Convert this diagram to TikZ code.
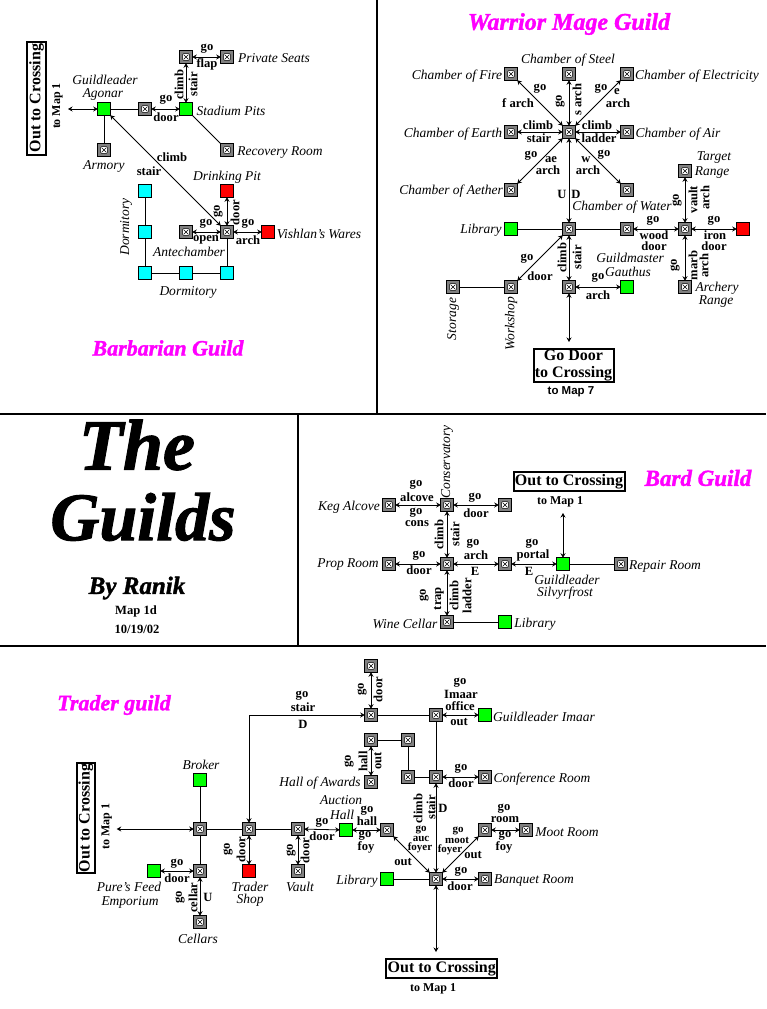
\documentclass[tikz,border=0pt]{standalone}
\usepackage{fontspec}
\setmainfont{Liberation Serif}
\setsansfont{Liberation Sans}
\newfontfamily\gothf[BoldItalicFeatures={FakeBold=1.5}]{Liberation Serif}
\usetikzlibrary{arrows.meta}
\definecolor{rg}{HTML}{808080}
\definecolor{gr}{HTML}{00FF00}
\definecolor{cy}{HTML}{00FFFF}
\definecolor{mg}{HTML}{FF00FF}
\newcounter{lc}
\newcommand\lbl[3][]{\stepcounter{lc}\node[lb,#1] (t\arabic{lc}) at (#2) {#3};}
\newcommand\itl[3][]{\stepcounter{lc}\node[itx,#1] (t\arabic{lc}) at (#2) {#3};}
\newcommand\rb[2]{\stepcounter{lc}\node[lb,rotate=90] (t\arabic{lc}) at (#1) {#2};}
\newcommand\ttl[4]{\stepcounter{lc}\node[gothic,text=#3,font=\fontsize{#4}{#4}\selectfont\gothf\bfseries\itshape] (t\arabic{lc}) at (#1) {#2};}
\tikzset{
 x=1pt,y=-1pt,
 box/.style={draw=black,line width=1pt,minimum size=12.5pt,inner sep=0pt,outer sep=0pt},
 room/.style={box,fill=rg,path picture={
   \draw[line width=.5pt,fill=white,rounded corners=1pt] (path picture bounding box.center) ++(-3.4,-3.4) rectangle ++(6.8,6.8);
   \draw[line width=.4pt] (path picture bounding box.center) ++(-2.2,-2.2) -- ++(4.4,4.4) ++(-4.4,0) -- ++(4.4,-4.4);
 }},
 grn/.style={box,fill=gr},
 rd/.style={box,fill=red},
 cyn/.style={box,fill=cy},
 lb/.style={font=\fontsize{12.6}{13}\selectfont\bfseries,inner sep=0pt,outer sep=0pt,yshift=-.6pt},
 tight/.style={font=\fontsize{11}{11}\selectfont\bfseries},
 itx/.style={font=\fontsize{13.5}{14}\selectfont\itshape,inner sep=0pt,outer sep=0pt,yshift=-1pt},
 gothic/.style={inner sep=0pt},
 exitbox/.style={draw=black,line width=2pt,font=\fontsize{16}{17}\selectfont\bfseries,inner sep=0pt,outer sep=0pt,align=center},
 tomap/.style={font=\fontsize{12}{12}\selectfont\bfseries,inner sep=0pt,outer sep=0pt},
 plain/.style={draw=black,line width=1pt},
 dbl/.style={draw=black,line width=.8pt,{Stealth[length=4.5pt,width=5pt]}-{Stealth[length=4.5pt,width=5pt]}},
 sep/.style={draw=black,line width=2pt},
}
\begin{document}
\begin{tikzpicture}
\useasboundingbox (0,0) rectangle (766,1009);
% frame lines
\coordinate (s1) at (377,0); \coordinate (s2) at (377,414);
\coordinate (s3) at (0,414); \coordinate (s4) at (766,414);
\coordinate (s5) at (298,414); \coordinate (s6) at (298,646);
\coordinate (s7) at (0,646); \coordinate (s8) at (766,646);
\draw[sep] (s1)--(s2); \draw[sep] (s3)--(s4); \draw[sep] (s5)--(s6); \draw[sep] (s7)--(s8);

% ---------- Barbarian
\node[grn] (bLeader) at (104,109) {};
\node[room] (bArm) at (104,150) {};
\node[room] (bDoor) at (145,109) {};
\node[grn] (bPits) at (186,109) {};
\node[room] (bTop) at (186,57) {};
\node[room] (bSeats) at (227,57) {};
\node[room] (bRec) at (227,150) {};
\node[rd] (bDrink) at (227,191) {};
\node[room] (bAnte) at (227,232) {};
\node[room] (bOpen) at (186,232) {};
\node[rd] (bWares) at (268,232) {};
\node[cyn] (bC1) at (145,191) {};
\node[cyn] (bC2) at (145,232) {};
\node[cyn] (bC3) at (145,273) {};
\node[cyn] (bC4) at (186,273) {};
\node[cyn] (bC5) at (227,273) {};
\coordinate (bOut) at (68,109);
\draw[dbl] (bOut)--(bLeader);
\draw[plain] (bLeader)--(bDoor); \draw[plain] (bLeader)--(bArm);
\draw[dbl] (bDoor)--(bPits); \draw[dbl] (bPits)--(bTop); \draw[dbl] (bTop)--(bSeats);
\draw[plain] (bPits)--(bRec);
\draw[dbl] (bLeader)--(bAnte);
\draw[dbl] (bDrink)--(bAnte); \draw[dbl] (bOpen)--(bAnte); \draw[dbl] (bAnte)--(bWares);
\draw[plain] (bAnte)--(bC5);
\draw[plain] (bC1)--(bC2); \draw[plain] (bC2)--(bC3); \draw[plain] (bC3)--(bC4); \draw[plain] (bC4)--(bC5);
\node[exitbox,rotate=90,minimum width=113pt,minimum height=19.5pt] (bExit) at (36.5,98) {Out to Crossing};
\stepcounter{lc}\node[tomap,rotate=90] (t\arabic{lc}) at (57.5,106) {to Map 1};
\itl{105,79}{Guildleader} \itl{103,93}{Agonar}
\lbl{166,99}{go} \lbl{166,117}{door}
\rb{179,84}{climb} \rb{193,84}{stair}
\lbl{207,48}{go} \lbl{207,64}{flap}
\itl{274,57}{Private Seats} \itl{231,110}{Stadium Pits} \itl{280,152}{Recovery Room}
\itl{104,165}{Armory} \lbl{172,157}{climb} \lbl{149,171}{stair}
\itl{227,176}{Drinking Pit}
\itl[rotate=90]{126,226}{Dormitory}
\rb{218,211}{go} \rb{235,212}{door}
\lbl{206,223}{go} \lbl{206,239}{open} \lbl{248,223}{go} \lbl{248,240}{arch}
\itl{319,233}{Vishlan's Wares} \itl{189,251}{Antechamber} \itl{188,291}{Dormitory}
\ttl{168,348}{Barbarian Guild}{mg}{22}

% ---------- Warrior Mage
\node[room] (wFire) at (511,74) {};
\node[room] (wSteel) at (569,74) {};
\node[room] (wElec) at (627,74) {};
\node[room] (wEarth) at (511,132) {};
\node[room] (wMid) at (569,132) {};
\node[room] (wAir) at (627,132) {};
\node[room] (wAeth) at (511,190) {};
\node[room] (wWater) at (627,190) {};
\node[grn] (wLib) at (511,229) {};
\node[room] (wHub) at (569,229) {};
\node[room] (wWood) at (627,229) {};
\node[room] (wIron) at (685,229) {};
\node[rd] (wRed) at (743,229) {};
\node[room] (wTarget) at (685,171) {};
\node[room] (wArch) at (685,287) {};
\node[room] (wBot) at (569,287) {};
\node[grn] (wMaster) at (627,287) {};
\node[room] (wShop) at (511,287) {};
\node[room] (wStore) at (453,287) {};
\coordinate (wOut) at (569,342);
\foreach \n in {wFire,wSteel,wElec,wEarth,wAir,wAeth,wWater,wHub}{\draw[dbl] (wMid)--(\n);}
\draw[plain] (wLib)--(wHub); \draw[plain] (wHub)--(wWood);
\draw[dbl] (wWood)--(wIron); \draw[dbl] (wIron)--(wRed); \draw[dbl] (wIron)--(wTarget); \draw[dbl] (wIron)--(wArch);
\draw[dbl] (wHub)--(wBot); \draw[dbl] (wHub)--(wShop); \draw[plain] (wShop)--(wStore);
\draw[dbl] (wBot)--(wMaster); \draw[dbl] (wBot)--(wOut);
\ttl{569,24}{Warrior Mage Guild}{mg}{24}
\itl{568,59}{Chamber of Steel} \itl{457,75}{Chamber of Fire} \itl{697,75}{Chamber of Electricity}
\lbl{540,88}{go} \lbl{518,103}{f arch} \rb{560,101}{go} \rb{577,99}{s arch}
\lbl{601,88}{go} \lbl{617,91}{e} \lbl{618,103}{arch}
\itl{453,133}{Chamber of Earth} \lbl{538,125}{climb} \lbl{539,138}{stair}
\lbl{597,125}{climb} \lbl{599,138}{ladder} \itl{678,133}{Chamber of Air}
\lbl{531,155}{go} \lbl{551,159}{ae} \lbl{548,170}{arch}
\lbl{586,159}{w} \lbl{604,154}{go} \lbl{588,170}{arch}
\itl{714,157}{Target} \itl{712,172}{Range}
\itl{451,190}{Chamber of Aether} \lbl{562,194}{U} \lbl{576,194}{D}
\itl{622,206}{Chamber of Water}
\rb{677,200}{go} \rb{693,199}{vault} \rb{705,197}{arch}
\itl{481,229}{Library}
\lbl{653,220}{go} \lbl{714,220}{go} \lbl{654,235}{wood} \lbl{654,246}{door} \lbl{715,235}{iron} \lbl{714,246}{door}
\itl{630,257}{Guildmaster} \itl{628,271}{Gauthus}
\lbl{527,258}{go} \lbl{540,276}{door} \rb{562,257}{climb} \rb{577,257}{stair}
\lbl{598,277}{go} \lbl{598,295}{arch}
\rb{675,265}{go} \rb{693,265}{marb} \rb{704,265}{arch}
\itl{717,287}{Archery} \itl{716,301}{Range}
\itl[rotate=90]{453,318}{Storage} \itl[rotate=90]{511,323}{Workshop}
\node[exitbox,minimum width=80pt,minimum height=33pt] (wExit) at (573.5,365) {Go Door\\to Crossing};
\stepcounter{lc}\node[tomap,font=\fontsize{11.5}{12}\selectfont\sffamily\bfseries] (t\arabic{lc}) at (571,392) {to Map 7};

% ---------- Title block
\ttl{137,445}{The}{black}{72}
\ttl{143,517}{Guilds}{black}{68}
\ttl{137,588}{By Ranik}{black}{25}
\lbl{136,611}{Map 1d} \lbl{137,629}{10/19/02}

% ---------- Bard
\node[room] (dKeg) at (389,505) {};
\node[room] (dCons) at (447,505) {};
\node[room] (dRight) at (505,505) {};
\node[room] (dProp) at (389,564) {};
\node[room] (dMid) at (447,564) {};
\node[room] (dArch) at (505,564) {};
\node[grn] (dLead) at (563,564) {};
\node[room] (dRep) at (621,564) {};
\node[room] (dWine) at (447,622) {};
\node[grn] (dLib) at (505,622) {};
\coordinate (dOut) at (563,513);
\draw[dbl] (dKeg)--(dCons); \draw[dbl] (dCons)--(dRight); \draw[dbl] (dCons)--(dMid);
\draw[dbl] (dProp)--(dMid); \draw[dbl] (dMid)--(dArch); \draw[dbl] (dArch)--(dLead);
\draw[plain] (dLead)--(dRep); \draw[dbl] (dMid)--(dWine); \draw[plain] (dWine)--(dLib);
\draw[dbl] (dLead)--(dOut);
\node[exitbox,minimum width=111pt,minimum height=19pt] (dExit) at (569,481.3) {Out to Crossing};
\stepcounter{lc}\node[tomap] (t\arabic{lc}) at (560,502) {to Map 1};
\ttl{698,478}{Bard Guild}{mg}{23}
\itl[rotate=90]{447,461}{Conservatory}
\lbl{416,484}{go} \lbl{417,497}{alcove} \lbl{416,512}{go} \lbl{417,523}{cons}
\lbl{475,497}{go} \lbl{476,513}{door} \itl{349,506}{Keg Alcove}
\rb{439,534}{climb} \rb{455,534}{stair}
\lbl{473,543}{go} \lbl{476,555}{arch} \lbl{475,571}{E}
\lbl{532,543}{go} \lbl{533,555}{portal} \lbl{529,571}{E}
\lbl{419,555}{go} \lbl{419,570}{door} \itl{348,564}{Prop Room} \itl{665,565}{Repair Room}
\itl{567,579}{Guildleader} \itl{565,592}{Silvyrfrost}
\rb{424,595}{go} \rb{439,598}{trap} \rb{454,595}{climb} \rb{467,595}{ladder}
\itl{405,623}{Wine Cellar} \itl{535,623}{Library}

% ---------- Trader
\node[grn] (tBrok) at (200,780) {};
\node[room] (tHub) at (200,829) {};
\node[room] (tShopR) at (249,829) {};
\node[room] (tVaultR) at (298,829) {};
\node[grn] (tFeed) at (154,871) {};
\node[room] (tCel) at (200,871) {};
\node[room] (tCellars) at (200,922) {};
\node[rd] (tShop) at (249,871) {};
\node[room] (tVault) at (298,871) {};
\node[room] (tTop) at (371,666) {};
\node[room] (tStair) at (371,715) {};
\node[room] (tOff) at (436,715) {};
\node[grn] (tImaar) at (485,715) {};
\node[room] (tH1) at (371,740) {};
\node[room] (tH2) at (408,740) {};
\node[room] (tH3) at (408,777) {};
\node[room] (tConfH) at (436,777) {};
\node[room] (tConf) at (485,777) {};
\node[room] (tAward) at (371,782) {};
\node[grn] (tAuc) at (346,830) {};
\node[room] (tAucF) at (387,830) {};
\node[room] (tMootF) at (485,830) {};
\node[room] (tMoot) at (526,830) {};
\node[grn] (tLib) at (387,879) {};
\node[room] (tFoy) at (436,879) {};
\node[room] (tBanq) at (485,879) {};
\coordinate (tOutL) at (116.7,829);
\coordinate (tOutB) at (436,952);
\draw[plain] (tHub)--(tBrok); \draw[plain] (tHub)--(tShopR); \draw[plain] (tShopR)--(tVaultR);
\draw[dbl] (tHub)--(tOutL); \draw[plain] (tHub)--(tCel);
\draw[dbl] (tCel)--(tFeed); \draw[dbl] (tCel)--(tCellars);
\draw[dbl] (tShopR)--(tShop); \draw[dbl] (tVaultR)--(tVault);
\draw[dbl] (tVaultR)--(tAuc); \draw[dbl] (tAuc)--(tAucF);
\draw[dbl] (tAucF)--(tFoy); \draw[dbl] (tMootF)--(tFoy); \draw[dbl] (tMootF)--(tMoot);
\draw[plain] (tLib)--(tFoy); \draw[dbl] (tFoy)--(tBanq); \draw[dbl] (tFoy)--(tConfH); \draw[dbl] (tFoy)--(tOutB);
\draw[dbl] (tConfH)--(tConf); \draw[plain] (tConfH)--(tH3); \draw[plain] (tH3)--(tH2); \draw[plain] (tH2)--(tH1);
\draw[dbl] (tH1)--(tAward); \draw[plain] (tConfH)--(tOff); \draw[plain] (tOff)--(tStair);
\draw[dbl] (tOff)--(tImaar); \draw[dbl] (tStair)--(tTop);
\draw[dbl] (tShopR) |- (tStair);
\node[exitbox,minimum width=111pt,minimum height=18.5pt] (tExit1) at (441.8,968.5) {Out to Crossing};
\node[exitbox,rotate=90,minimum width=110.5pt,minimum height=18.5pt] (tExit2) at (85.8,818) {Out to Crossing};
\stepcounter{lc}\node[tomap,rotate=90] (t\arabic{lc}) at (106.7,826.7) {to Map 1};
\stepcounter{lc}\node[tomap] (t\arabic{lc}) at (433,989) {to Map 1};
\ttl{114,705}{Trader guild}{mg}{22}
\lbl{302,695}{go} \lbl{303,707}{stair} \lbl{303,724}{D}
\itl{201,764}{Broker}
\lbl{322,822}{go} \lbl{322,836}{door}
\rb{228,849}{go} \rb{241,849}{door} \rb{291,850}{go} \rb{305,850}{door}
\lbl{177,863}{go} \lbl{177,878}{door}
\itl{129,886}{Pure's Feed} \itl{130,901}{Emporium}
\rb{180,897}{go} \rb{193,897}{cellar} \lbl{208,897}{U}
\itl{250,886}{Trader} \itl{250,899}{Shop} \itl{300,886}{Vault} \itl{198,938}{Cellars}
\rb{362,689}{go} \rb{378,689}{door}
\lbl{460,682}{go} \lbl{461,694}{Imaar} \lbl{460,706}{office} \lbl{459,721}{out}
\itl{544,716}{Guildleader Imaar}
\rb{349,761}{go} \rb{363,761}{hall} \rb{378,760}{out}
\itl{320,782}{Hall of Awards}
\lbl{461,768}{go} \lbl{461,783}{door} \itl{542,778}{Conference Room}
\rb{418,808}{climb} \rb{431,807}{stair} \lbl{443,808}{D}
\itl{341,799}{Auction} \itl{342,814}{Hall}
\lbl{367,810}{go} \lbl{367,821}{hall} \lbl{365,835}{go} \lbl{366,847}{foy}
\lbl{504,808}{go} \lbl{505,819}{room} \lbl{505,835}{go} \lbl{504,847}{foy}
\itl{567,831}{Moot Room}
\lbl[tight]{421,829}{go} \lbl[tight]{421,838}{auc} \lbl[tight]{420,847}{foyer}
\lbl[tight]{458,830}{go} \lbl[tight]{457,840}{moot} \lbl[tight]{450,849}{foyer} \lbl{473,854}{out} \lbl{403,861}{out}
\itl{357,880}{Library} \lbl{461,871}{go} \lbl{460,886}{door} \itl{534,880}{Banquet Room}
\end{tikzpicture}
\end{document}
